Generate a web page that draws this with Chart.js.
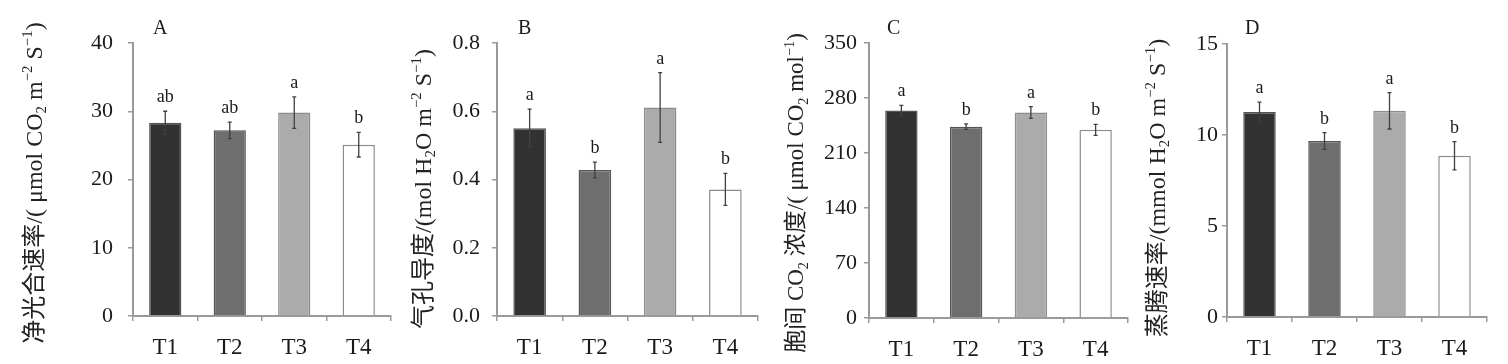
<!DOCTYPE html>
<html><head><meta charset="utf-8">
<script src="https://cdn.jsdelivr.net/npm/chart.js@4.4.1/dist/chart.umd.min.js"></script>
<style>
body{margin:0;background:#fff;width:1508px;height:364px;overflow:hidden;position:relative}
.p{position:absolute;top:0;height:364px}
canvas{display:block}
</style></head><body>
<div class="p" style="left:0px"><canvas id="cA" width="395" height="364"></canvas></div>
<div class="p" style="left:380px"><canvas id="cB" width="382" height="364"></canvas></div>
<div class="p" style="left:760px"><canvas id="cC" width="372" height="364"></canvas></div>
<div class="p" style="left:1130px"><canvas id="cD" width="362" height="364"></canvas></div>
<script>
// ---- data ----
const categories = ["T1", "T2", "T3", "T4"];

const meansA = [28.3, 27.2, 29.8, 25.1];
const errA = [1.7, 1.2, 2.3, 1.8];
const lettersA = ["ab", "ab", "a", "b"];
const yTicksA = ["0", "10", "20", "30", "40"];

const meansB = [0.55, 0.428, 0.611, 0.371];
const errB = [0.056, 0.023, 0.102, 0.047];
const lettersB = ["a", "b", "a", "b"];
const yTicksB = ["0.0", "0.2", "0.4", "0.6", "0.8"];

const meansC = [264, 243.5, 261.5, 239.5];
const errC = [6.5, 3.5, 7.5, 7];
const lettersC = ["a", "b", "a", "b"];
const yTicksC = ["0", "70", "140", "210", "280", "350"];

const meansD = [11.26, 9.67, 11.33, 8.86];
const errD = [0.55, 0.46, 1.0, 0.78];
const lettersD = ["a", "b", "a", "b"];
const yTicksD = ["0", "5", "10", "15"];

const titleA = [["净光合速率/( μmol CO",""],["2","sub"],[" m",""],["−2","sup"],[" S",""],["−1","sup"],[")",""]];
const titleB = [["气孔导度/(mol H",""],["2","sub"],["O m",""],["−2","sup"],[" S",""],["−1","sup"],[")",""]];
const titleC = [["胞间 CO",""],["2","sub"],[" 浓度/( μmol CO",""],["2","sub"],[" mol",""],["−1","sup"],[")",""]];
const titleD = [["蒸腾速率/(mmol H",""],["2","sub"],["O m",""],["−2","sup"],[" S",""],["−1","sup"],[")",""]];

const panelLetters = ["A", "B", "C", "D"];

// ---- styles ----
const fillColors = ["#323232", "#6e6e6e", "#ababab", "#ffffff"];
const borderColors = ["#555555", "#555555", "#8c8c8c", "#8c8c8c"];
const SERIF = "'Liberation Serif','Times New Roman',serif";
const TITLEFONT = "'Liberation Serif','Noto Sans CJK SC',serif";
const AXIS = "#9a9a9a";

function makePanel(id, cfg) {
  const canvas = document.getElementById(id);
  const W = canvas.width, H = canvas.height;
  const tickVals = cfg.ticks.map(parseFloat);
  const overlay = {
    id: 'overlay' + id,
    afterDatasetsDraw(chart) {
      const ctx = chart.ctx;
      const xs = chart.scales.x, ys = chart.scales.y;
      ctx.save();
      // error bars
      ctx.strokeStyle = "#404040";
      ctx.lineWidth = 1.3;
      cfg.means.forEach((m, i) => {
        const x = xs.getPixelForValue(i);
        const yt = ys.getPixelForValue(m + cfg.err[i]);
        const yb = ys.getPixelForValue(m - cfg.err[i]);
        ctx.beginPath();
        ctx.moveTo(x, yt); ctx.lineTo(x, yb);
        ctx.moveTo(x - 2, yt); ctx.lineTo(x + 2, yt);
        ctx.moveTo(x - 2, yb); ctx.lineTo(x + 2, yb);
        ctx.stroke();
        // letters
        ctx.fillStyle = "#1a1a1a";
        ctx.font = "18px " + SERIF;
        ctx.textAlign = "center";
        ctx.textBaseline = "alphabetic";
        ctx.fillText(cfg.letters[i], x, yt - 9);
      });
      // panel letter
      ctx.font = "20px " + SERIF;
      ctx.textAlign = "left";
      ctx.textBaseline = "alphabetic";
      ctx.fillStyle = "#1a1a1a";
      ctx.fillText(cfg.panel, cfg.letterX, 34);
      // y title
      ctx.translate(cfg.titleX, cfg.titleY);
      ctx.rotate(-Math.PI / 2);
      const fs = cfg.titleSize;
      const segs = cfg.title.map(([t, k]) => {
        const size = k ? fs * 0.62 : fs;
        ctx.font = size + "px " + TITLEFONT;
        return {t, k, size, w: ctx.measureText(t).width};
      });
      const total = segs.reduce((a, s) => a + s.w, 0);
      let cx = -total / 2;
      ctx.textAlign = "left";
      ctx.textBaseline = "alphabetic";
      ctx.fillStyle = "#222";
      const base = fs * 0.36;
      segs.forEach(s => {
        ctx.font = s.size + "px " + TITLEFONT;
        let dy = base;
        if (s.k === "sub") dy = base + fs * 0.2;
        if (s.k === "sup") dy = base - fs * 0.42;
        ctx.fillText(s.t, cx, dy);
        cx += s.w;
      });
      ctx.restore();
    }
  };
  new Chart(canvas, {
    type: 'bar',
    data: {
      labels: categories,
      datasets: [{
        data: cfg.means,
        backgroundColor: fillColors,
        borderColor: borderColors,
        borderWidth: 1.5,
        categoryPercentage: 1.0,
        barPercentage: 0.5
      }]
    },
    options: {
      responsive: false,
      animation: false,
      devicePixelRatio: 1,
      layout: {padding: {top: cfg.top, right: W - cfg.plotRight, left: 0, bottom: 0}},
      plugins: {legend: {display: false}, tooltip: {enabled: false}},
      scales: {
        x: {
          grid: {offset: true, drawOnChartArea: false, drawTicks: true, tickLength: 5, color: AXIS, lineWidth: 1.5},
          border: {color: AXIS, width: 2},
          ticks: {font: {family: SERIF, size: 23}, color: "#1a1a1a", padding: 13},
          afterFit: s => { s.height = H - cfg.bottom; }
        },
        y: {
          min: 0, max: tickVals[tickVals.length - 1],
          afterBuildTicks: s => { s.ticks = tickVals.map(v => ({value: v})); },
          grid: {drawOnChartArea: false, drawTicks: true, tickLength: 5, color: AXIS, lineWidth: 1.5},
          border: {color: AXIS, width: 2},
          ticks: {font: {family: SERIF, size: 22}, color: "#1a1a1a", padding: cfg.tickPad,
                  callback: (v, i) => cfg.ticks[i]},
          afterFit: s => { s.width = cfg.axisX; }
        }
      }
    },
    plugins: [overlay]
  });
}

makePanel('cA', {means: meansA, err: errA, letters: lettersA, ticks: yTicksA, title: titleA, panel: panelLetters[0],
  axisX: 133, plotRight: 391, top: 43, bottom: 316, tickPad: 15, titleX: 33, titleY: 183, titleSize: 24, letterX: 153});
makePanel('cB', {means: meansB, err: errB, letters: lettersB, ticks: yTicksB, title: titleB, panel: panelLetters[1],
  axisX: 117, plotRight: 378, top: 43, bottom: 316, tickPad: 12, titleX: 42, titleY: 189, titleSize: 24, letterX: 138});
makePanel('cC', {means: meansC, err: errC, letters: lettersC, ticks: yTicksC, title: titleC, panel: panelLetters[2],
  axisX: 109, plotRight: 368, top: 43, bottom: 318, tickPad: 7, titleX: 35, titleY: 193, titleSize: 23, letterX: 127});
makePanel('cD', {means: meansD, err: errD, letters: lettersD, ticks: yTicksD, title: titleD, panel: panelLetters[3],
  axisX: 97, plotRight: 357, top: 44, bottom: 317, tickPad: 4, titleX: 26, titleY: 188, titleSize: 24, letterX: 115});
</script>
</body></html>
